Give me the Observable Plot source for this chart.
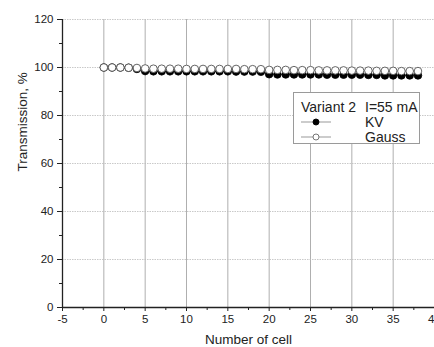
<!DOCTYPE html>
<html>
<head>
<meta charset="utf-8">
<script src="https://cdn.jsdelivr.net/npm/d3@7"></script>
<script src="https://cdn.jsdelivr.net/npm/@observablehq/plot@0.6"></script>
<style>
  html, body { margin: 0; padding: 0; background: #fff; }
  #wrap { position: relative; width: 434px; height: 347px; overflow: hidden; font-family: "Liberation Sans", Arial, sans-serif; }
  #legend { position: absolute; left: 293px; top: 92px; width: 127px; height: 52px; border: 1px solid #9a9a9a; background: #fff; box-sizing: border-box; }
  #legend svg { position: absolute; left: 0; top: 0; }
</style>
</head>
<body>
<div id="wrap"></div>
<script>
// Data
const cells = [0,1,2,3,4,5,6,7,8,9,10,11,12,13,14,15,16,17,18,19,20,21,22,23,24,25,26,27,28,29,30,31,32,33,34,35,36,37,38];
const kv = [100,100,100,99.9,99.4,98.5,98.4,98.4,98.4,98.4,98.4,98.4,98.4,98.4,98.4,98.4,98.3,98.3,98.3,98.2,97.2,97.1,97.1,97.1,97.1,97.1,97.1,97.0,97.0,97.0,97.0,97.0,96.9,96.9,96.7,96.7,96.7,96.7,96.7];
const gauss = [100,100,100,99.9,99.8,99.6,99.5,99.5,99.5,99.5,99.4,99.4,99.4,99.4,99.4,99.4,99.4,99.3,99.3,99.3,99.0,99.0,99.0,98.9,98.9,98.9,98.8,98.8,98.8,98.8,98.7,98.7,98.7,98.6,98.6,98.6,98.5,98.5,98.5];
const xTicks = [-5,0,5,10,15,20,25,30,35,40];
const xMinor = [-2.5,2.5,7.5,12.5,17.5,22.5,27.5,32.5,37.5];
const yTicks = [0,20,40,60,80,100,120];
const yMinor = [10,30,50,70,90,110];
const xLabel = "Number of cell";
const yLabel = "Transmission, %";
const legendTitle = "Variant 2", legendCurrent = "I=55 mA";
const seriesNames = ["KV", "Gauss"];

const kvData = cells.map((c, i) => ({cell: c, value: kv[i]}));
const gaussData = cells.map((c, i) => ({cell: c, value: gauss[i]}));

const chart = Plot.plot({
  width: 434,
  height: 347,
  marginLeft: 62,
  marginRight: 0,
  marginTop: 19,
  marginBottom: 40,
  x: {domain: [-5, 40]},
  y: {domain: [0, 120]},
  style: {fontFamily: "'Liberation Sans', Arial, sans-serif", fontSize: "11.5px", color: "#222", background: "#fff"},
  marks: [
    Plot.gridX(xTicks.filter(d => d > -5), {stroke: "#9a9a9a", strokeOpacity: 1, strokeWidth: 0.8}),
    Plot.gridY(yTicks.filter(d => d > 0), {stroke: "#bbb", strokeOpacity: 1, strokeWidth: 0.8, strokeDasharray: "1.5,1"}),
    Plot.axisX(xTicks, {tickSize: 4, tickPadding: 3, tickFormat: d => String(d), label: null, stroke: "#222", fill: "#222"}),
    Plot.axisX(xMinor, {tickSize: 3, text: null, label: null, stroke: "#222"}),
    Plot.axisY(yTicks, {tickSize: 5, tickPadding: 4, tickFormat: d => String(d), label: null, stroke: "#222", fill: "#222"}),
    Plot.axisY(yMinor, {tickSize: 3, text: null, label: null, stroke: "#222"}),
    Plot.ruleX([-5], {stroke: "#222", strokeWidth: 1.3}),
    Plot.ruleY([0], {stroke: "#222", strokeWidth: 1.3}),
    Plot.line(kvData, {x: "cell", y: "value", stroke: "#888", strokeWidth: 1}),
    Plot.line(gaussData, {x: "cell", y: "value", stroke: "#aaa", strokeWidth: 1}),
    Plot.dot(kvData, {x: "cell", y: "value", r: 3.8, fill: "#000", stroke: "#000", strokeWidth: 0.8}),
    Plot.dot(gaussData, {x: "cell", y: "value", r: 3.8, fill: "#fff", stroke: "#555", strokeWidth: 0.9}),
    Plot.text([xLabel], {frameAnchor: "bottom", dy: 32, fontSize: 13.5, fill: "#222", lineAnchor: "middle"}),
    Plot.text([yLabel], {frameAnchor: "left", dx: -40, dy: 8, rotate: -90, fontSize: 13.5, fill: "#222", lineAnchor: "middle"})
  ]
});

const wrap = document.getElementById("wrap");
wrap.appendChild(chart);

// Legend (inside the plot area, as in the reference)
const legend = document.createElement("div");
legend.id = "legend";
wrap.appendChild(legend);
const ls = d3.select(legend).append("svg").attr("width", 127).attr("height", 52)
  .style("font-family", "'Liberation Sans', Arial, sans-serif").style("font-size", "14px");
ls.append("text").attr("x", 7).attr("y", 19).attr("fill", "#222").text(legendTitle);
ls.append("text").attr("x", 71).attr("y", 19).attr("fill", "#222").text(legendCurrent);
seriesNames.forEach((name, i) => {
  const cy = 29 + i * 15;
  ls.append("line").attr("x1", 7).attr("x2", 37).attr("y1", cy).attr("y2", cy).attr("stroke", "#999").attr("stroke-width", 1);
  ls.append("circle").attr("cx", 22).attr("cy", cy).attr("r", 3)
    .attr("fill", i === 0 ? "#000" : "#fff").attr("stroke", i === 0 ? "#000" : "#666").attr("stroke-width", 0.9);
  ls.append("text").attr("x", 71).attr("y", cy + 5).attr("fill", "#222").text(name);
});
</script>
</body>
</html>
